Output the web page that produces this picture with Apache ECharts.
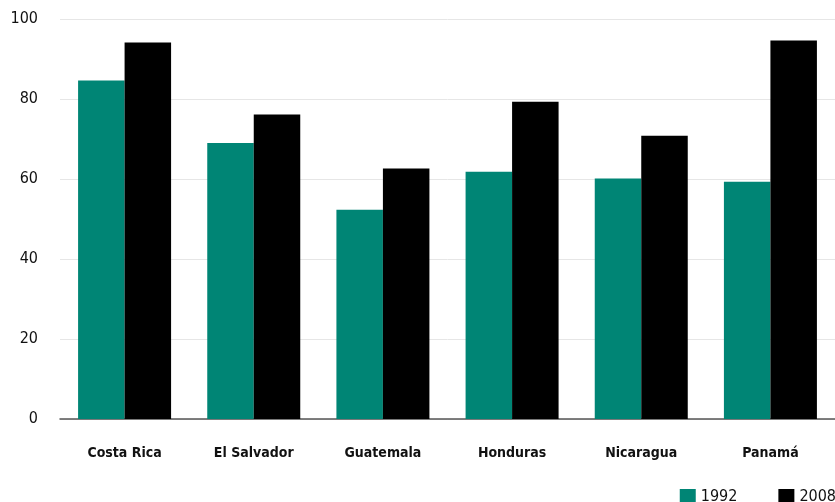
<!DOCTYPE html>
<html>
<head>
<meta charset="utf-8">
<script src="https://cdn.jsdelivr.net/npm/echarts@6/dist/echarts.min.js"></script>
<style type="text/css">
    #main {height:502px;width:835px;position:absolute;}
    body {margin:0px;padding:0px;overflow:hidden;background:#fff;}
</style>
</head>
<body>
<div id="main"></div>
<script type="text/javascript">
    // data
    let countries = ['Costa Rica', 'El Salvador', 'Guatemala', 'Honduras', 'Nicaragua', 'Panamá'];
    let values1992 = [84.6, 69.0, 52.3, 61.8, 60.1, 59.3];
    let values2008 = [94.1, 76.1, 62.6, 79.3, 70.8, 94.6];
    let yTicks = [0, 20, 40, 60, 80, 100];

    let font = '"DejaVu Sans Condensed", "Liberation Sans Narrow", Roboto, sans-serif';
    let myChart = echarts.init(document.getElementById('main'));
    let option = {
        animation: false,
        grid: {left: 60, right: 0, top: 19, bottom: 83},
        legend: {
            data: ['1992', '2008'],
            right: -6,
            top: 484,
            itemWidth: 16,
            itemHeight: 16,
            itemGap: 41,
            icon: 'rect',
            textStyle: {fontFamily: font, fontSize: 16, color: '#111'}
        },
        xAxis: {
            type: 'category',
            data: countries,
            axisTick: {show: false},
            axisLine: {lineStyle: {color: '#555', width: 1.5}},
            axisLabel: {fontFamily: font, fontWeight: 'bold', fontSize: 14, color: '#111', margin: 27}
        },
        yAxis: {
            type: 'value',
            min: yTicks[0],
            max: yTicks[yTicks.length - 1],
            interval: 20,
            axisLine: {show: false},
            axisTick: {show: false},
            splitLine: {lineStyle: {color: '#e6e6e6', width: 1}},
            axisLabel: {fontFamily: font, fontSize: 16, color: '#111', margin: 22}
        },
        series: [
            {
                name: '1992',
                type: 'bar',
                data: values1992,
                barWidth: '36%',
                barGap: '0%',
                itemStyle: {color: '#008575'}
            },
            {
                name: '2008',
                type: 'bar',
                data: values2008,
                barWidth: '36%',
                itemStyle: {color: '#000000'}
            }
        ]
    };
    myChart.setOption(option);
    window.onresize = myChart.resize;
</script>
</body>
</html>
